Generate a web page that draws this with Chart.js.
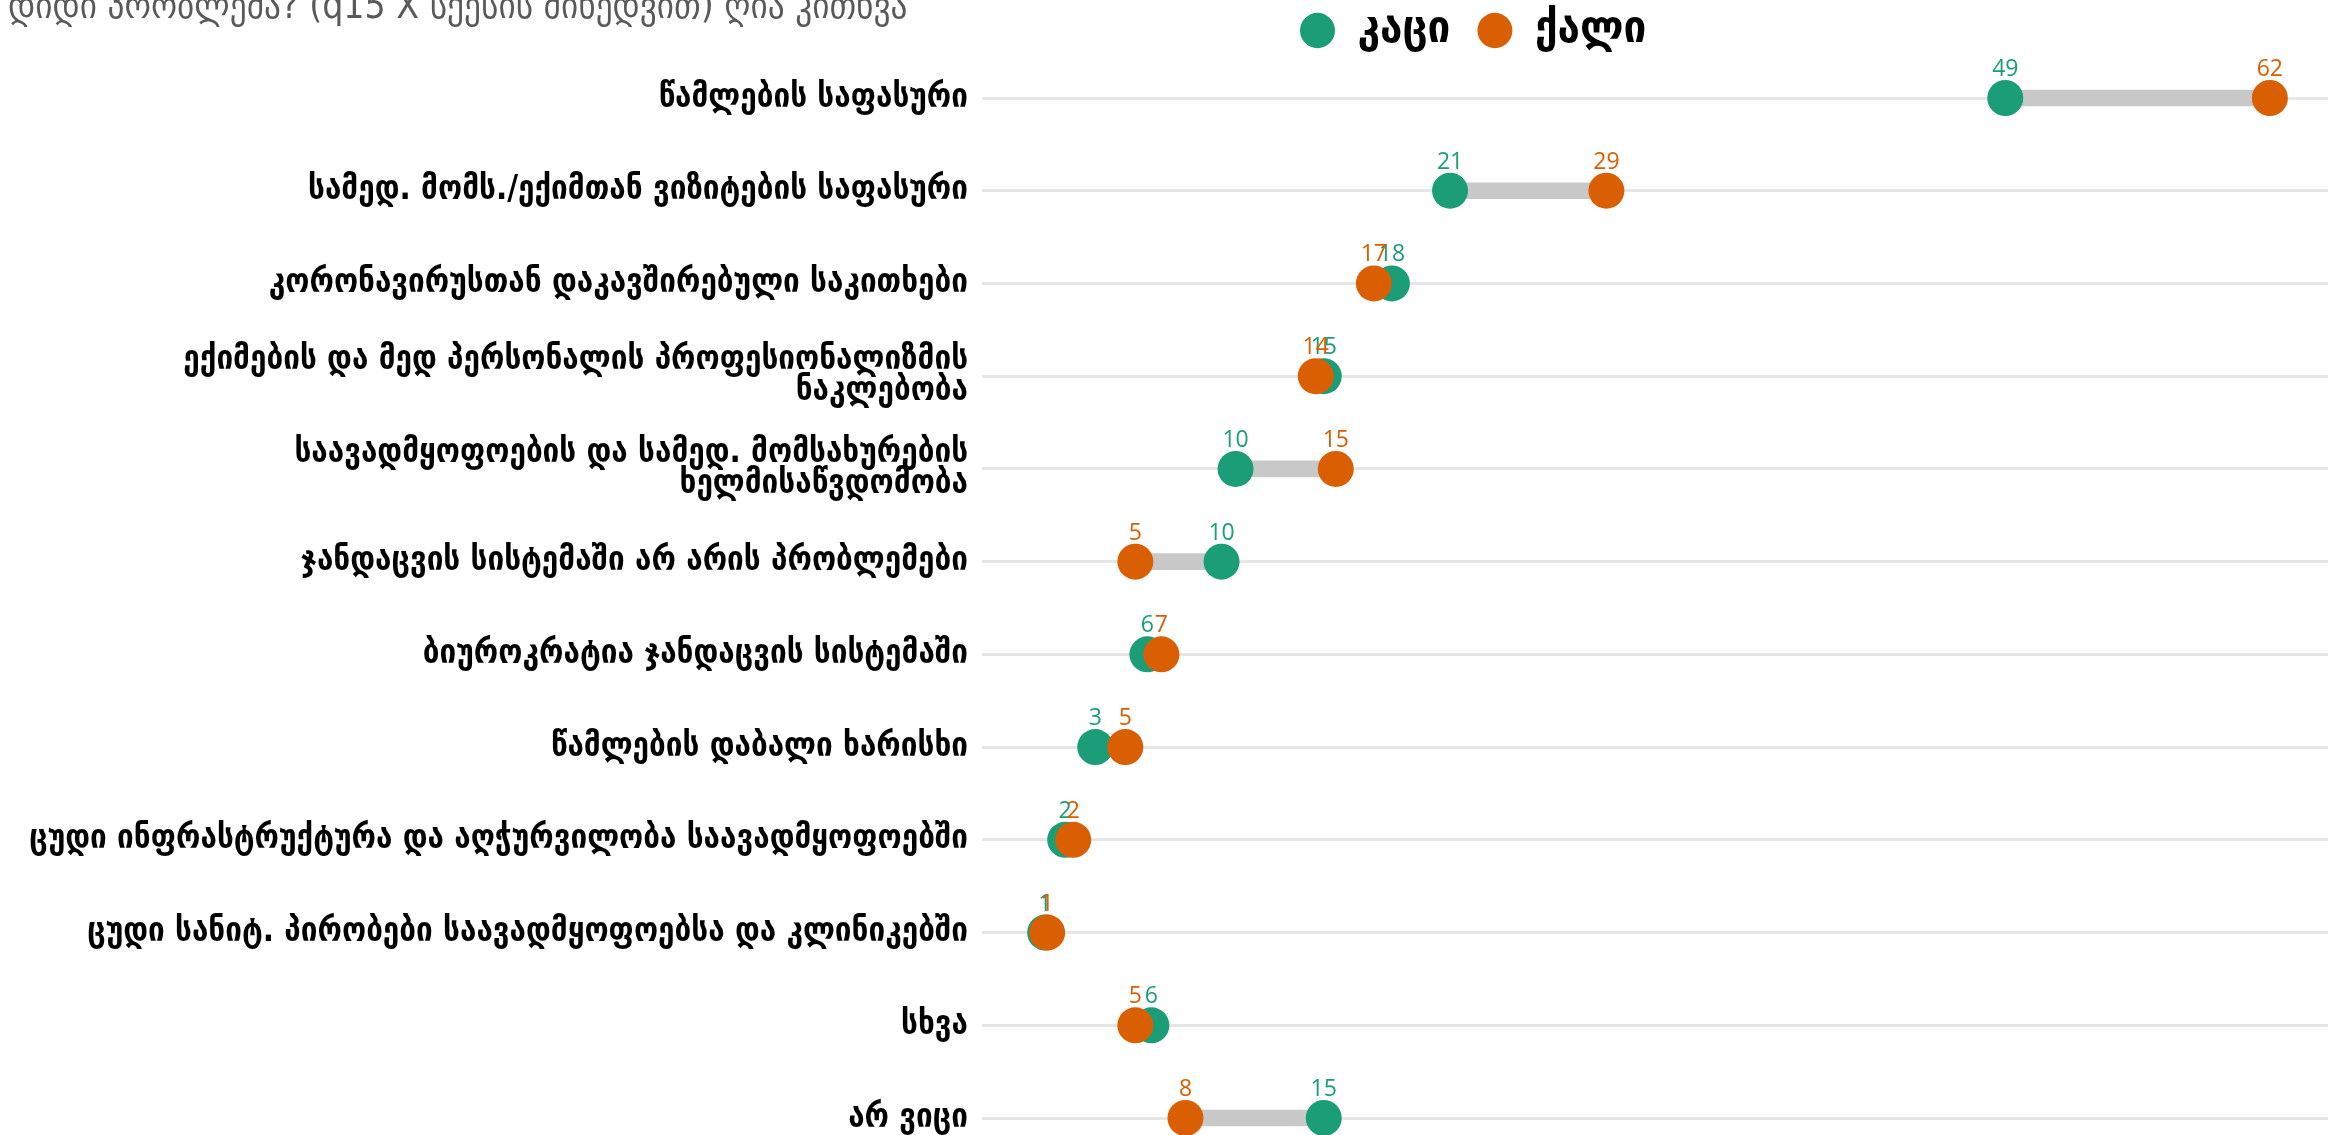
<!DOCTYPE html>
<html>
<head>
<meta charset="utf-8">
<script src="https://cdn.jsdelivr.net/npm/chart.js@4.4.1/dist/chart.umd.min.js"></script>
<style>
html,body{margin:0;padding:0;background:#fff;overflow:hidden}
#wrap{position:relative;width:2328px;height:1135px}
#satauri{position:absolute;left:8px;top:-13px;font:37px/37px "DejaVu Sans Condensed";color:#595959;white-space:nowrap}
</style>
</head>
<body>
<div id="wrap">
<canvas id="myChart"></canvas>
<div id="satauri">დიდი პრობლემა? (q15 X სქესის მიხედვით) ღია კითხვა</div>
</div>
<script>
var kategoriebi = [
    'წამლების საფასური',
    'სამედ. მომს./ექიმთან ვიზიტების საფასური',
    'კორონავირუსთან დაკავშირებული საკითხები',
    ['ექიმების და მედ პერსონალის პროფესიონალიზმის', 'ნაკლებობა'],
    ['საავადმყოფოების და სამედ. მომსახურების', 'ხელმისაწვდომობა'],
    'ჯანდაცვის სისტემაში არ არის პრობლემები',
    'ბიუროკრატია ჯანდაცვის სისტემაში',
    'წამლების დაბალი ხარისხი',
    'ცუდი ინფრასტრუქტურა და აღჭურვილობა საავადმყოფოებში',
    'ცუდი სანიტ. პირობები საავადმყოფოებსა და კლინიკებში',
    'სხვა',
    'არ ვიცი'
]
var kaci = [48.8, 21.1, 18.2, 14.8, 10.4, 9.7, 6.0, 3.4, 1.9, 0.9, 6.2, 14.8]
var qali = [62.0, 28.9, 17.3, 14.4, 15.4, 5.4, 6.7, 4.9, 2.3, 1.0, 5.4, 7.9]
var seriebi = ['კაცი', 'ქალი']
var mwvane = '#1b9e77'
var stafilo = '#d95f02'

// gray bar between the two dots
var shualedi = []
for (var i = 0; i <= kategoriebi.length - 1; i++) {
    shualedi.push([kaci[i], qali[i]])
}

const etiketebi = {
    id: 'etiketebi',
    afterDatasetsDraw(chart) {
        const ctx = chart.ctx
        ctx.save()
        ctx.font = '23px "Open Sans"'
        ctx.textAlign = 'center'
        ctx.textBaseline = 'alphabetic'
        for (const d of [1, 2]) {
            const ds = chart.data.datasets[d]
            ctx.fillStyle = ds.backgroundColor
            chart.getDatasetMeta(d).data.forEach((pt, j) => {
                ctx.fillText(Math.round(ds.data[j]), pt.x, pt.y - 22)
            })
        }
        ctx.restore()
    }
}

// legend sits over the plot, not centered on the page
const legendisAdgili = {
    id: 'legendisAdgili',
    afterLayout(chart) {
        const lg = chart.legend
        lg.left = 1300 - 27
        lg.top = 30 - 27 - 22
    }
}

const ctx = document.getElementById('myChart')
new Chart(ctx, {
    type: 'bar',
    data: {
        labels: kategoriebi,
        datasets: [{
            type: 'bar',
            label: 'shualedi',
            data: shualedi,
            backgroundColor: '#c8c8c8',
            borderWidth: 0,
            barThickness: 16,
            order: 3,
            clip: false
        }, {
            type: 'line',
            label: seriebi[0],
            data: kaci,
            indexAxis: 'y',
            showLine: false,
            backgroundColor: mwvane,
            borderColor: mwvane,
            borderWidth: 0,
            pointRadius: 18,
            pointHoverRadius: 18,
            pointBorderWidth: 0,
            order: 2,
            clip: false
        }, {
            type: 'line',
            label: seriebi[1],
            data: qali,
            indexAxis: 'y',
            showLine: false,
            backgroundColor: stafilo,
            borderColor: stafilo,
            borderWidth: 0,
            pointRadius: 18,
            pointHoverRadius: 18,
            pointBorderWidth: 0,
            order: 1,
            clip: false
        }]
    },
    options: {
        indexAxis: 'y',
        responsive: true,
        maintainAspectRatio: false,
        animation: false,
        events: [],
        layout: {
            autoPadding: false,
            padding: { top: 16, bottom: 17, left: 0, right: 0 }
        },
        scales: {
            x: {
                type: 'linear',
                min: -2.25,
                max: 64.9,
                display: false
            },
            y: {
                type: 'category',
                offset: false,
                border: { display: false },
                grid: {
                    offset: false,
                    color: '#e6e6e6',
                    lineWidth: 3,
                    drawTicks: false
                },
                ticks: {
                    autoSkip: false,
                    padding: 14,
                    color: '#000',
                    font: {
                        family: '"DejaVu Sans Condensed"',
                        weight: 'bold',
                        size: 33,
                        lineHeight: '31px'
                    }
                },
                afterFit(scale) {
                    scale.width = 982
                    scale.paddingTop = 0
                    scale.paddingBottom = 0
                }
            }
        },
        plugins: {
            legend: {
                position: 'top',
                align: 'start',
                labels: {
                    usePointStyle: true,
                    pointStyleWidth: 35,
                    boxHeight: 25,
                    padding: 27,
                    color: '#000',
                    font: {
                        family: '"DejaVu Sans Condensed"',
                        weight: 'bold',
                        size: 45
                    },
                    filter: (item) => item.datasetIndex > 0,
                    sort: (a, b) => a.datasetIndex - b.datasetIndex
                }
            },
            title: { display: false },
            tooltip: { enabled: false }
        }
    },
    plugins: [etiketebi, legendisAdgili]
})
</script>
</body>
</html>
